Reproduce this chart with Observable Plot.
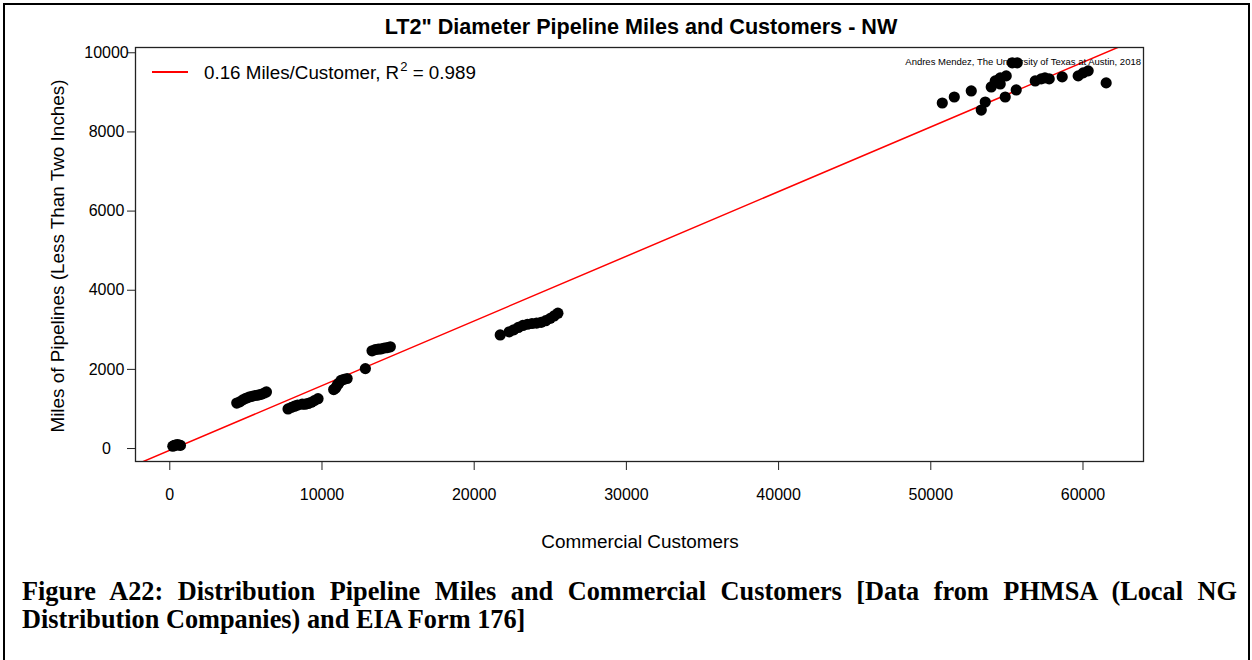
<!DOCTYPE html>
<html>
<head>
<meta charset="utf-8">
<script src="https://cdn.jsdelivr.net/npm/d3@7"></script>
<script src="https://cdn.jsdelivr.net/npm/@observablehq/plot@0.6"></script>
<style>
  html, body { margin: 0; padding: 0; background: #fff; }
  #page { position: relative; width: 1252px; height: 660px; overflow: hidden; font-family: "Liberation Sans", Arial, sans-serif; color: #000; }
  #border { position: absolute; left: 3px; top: 3px; width: 1243px; height: 700px; border-top: 2px solid #000; border-left: 2px solid #000; border-right: 2px solid #000; }
  .abs { position: absolute; white-space: nowrap; }
  #chart { position: absolute; left: 0; top: 0; }
  .cap { position: absolute; left: 22px; width: 1215px; font-family: "Liberation Serif", "Times New Roman", serif; font-weight: bold; font-size: 26.3px; line-height: 28px; white-space: normal; }
</style>
</head>
<body>
<div id="page">
  <div id="border"></div>
  <div id="chart"></div>
</div>
<script>
// ---- data ----
const customers = [
  200, 300, 400, 500, 600, 700,
  4400, 4600, 4800, 5000, 5200, 5400, 5600, 5800, 6000, 6200, 6350,
  7770, 8000, 8200, 8400, 8700, 8900, 9100, 9300, 9500, 9740,
  10770, 10900, 11000, 11100, 11250, 11450, 11650,
  12850,
  13290, 13500, 13700, 13900, 14100, 14300, 14490,
  21710, 22300, 22600, 22900, 23200, 23500, 23800, 24100, 24400, 24700, 25000, 25250, 25500,
  50755, 51543, 52659, 53316, 53578, 53972, 54235, 54432, 54563, 54563, 54891, 54957,
  55351, 55680, 55614, 56861, 57255, 57500, 57781, 58634, 59685, 60013, 60341, 61523
];
const miles = [
  60, 80, 90, 100, 90, 80,
  1150, 1180, 1230, 1270, 1300, 1320, 1340, 1350, 1370, 1400, 1430,
  1000, 1040, 1070, 1100, 1120, 1120, 1140, 1170, 1210, 1260,
  1490, 1530, 1600, 1650, 1720, 1750, 1770,
  2020,
  2470, 2500, 2510, 2520, 2540, 2550, 2570,
  2870, 2950, 3000, 3060, 3110, 3140, 3160, 3170, 3190, 3230, 3290, 3350, 3420,
  8731, 8883, 9036, 8553, 8756, 9137, 9289, 9307, 9365, 9213, 8883, 9416,
  9746, 9746, 9061, 9289, 9340, 9365, 9340, 9391, 9416, 9492, 9543, 9239
];
const fitSlope = 0.1634;
const fitIntercept = -43;
const legendSlope = "0.16";
const legendR2 = "0.989";
const xTicks = [0, 10000, 20000, 30000, 40000, 50000, 60000];
const yTicks = [0, 2000, 4000, 6000, 8000, 10000];

const titleText = "LT2\" Diameter Pipeline Miles and Customers - NW";
const xTitle = "Commercial Customers";
const yTitle = "Miles of Pipelines (Less Than Two Inches)";
const credit = "Andres Mendez, The University of Texas at Austin, 2018";
const captionLine1 = "Figure A22: Distribution Pipeline Miles and Commercial Customers [Data from PHMSA (Local NG";
const captionLine2 = "Distribution Companies) and EIA Form 176]";

// ---- build ----
const points = customers.map((c, i) => ({c, m: miles[i]}));
function rExtend([a, b]) { const d = (b - a) * 0.04; return [a - d, b + d]; }
const xDom = rExtend(d3.extent(customers));
xDom[0] = Math.min(xDom[0], -2250);
const yDom = rExtend(d3.extent(miles));
const fit = xDom.map(x => ({c: x, m: fitSlope * x + fitIntercept}));

const W = 1252, H = 560;
const plot = Plot.plot({
  width: W, height: H,
  marginTop: 47, marginLeft: 135, marginRight: 109, marginBottom: H - 461,
  style: {fontFamily: "'Liberation Sans', Arial, sans-serif", fontSize: "16px", color: "#000", background: "transparent"},
  x: {domain: xDom, label: null},
  y: {domain: yDom, label: null},
  marks: [
    Plot.line(fit, {x: "c", y: "m", stroke: "#ff0000", strokeWidth: 1.5, clip: true}),
    Plot.dot(points, {x: "c", y: "m", r: 5.6, fill: "#000", stroke: null}),
    Plot.frame({stroke: "#222", strokeWidth: 1.3}),
    Plot.axisX(xTicks, {tickSize: 9, tickPadding: 18, tickFormat: d => String(d), stroke: "#222", label: null}),
    Plot.axisY(yTicks, {tickSize: 8, tickPadding: 21, textAnchor: "middle", tickFormat: d => String(d), stroke: "#222", label: null})
  ]
});
document.getElementById("chart").appendChild(plot);

const page = document.getElementById("page");
function addText(txt, css, html) {
  const d = document.createElement("div");
  d.className = "abs";
  if (html) d.innerHTML = txt; else d.textContent = txt;
  Object.assign(d.style, css);
  page.appendChild(d);
  return d;
}
addText(titleText, {left: "641px", top: "27px", transform: "translate(-50%,-50%)", fontWeight: "bold", fontSize: "21.6px"});
addText(xTitle, {left: "640px", top: "542px", transform: "translate(-50%,-50%)", fontSize: "18.9px"});
addText(yTitle, {left: "58px", top: "256px", transform: "translate(-50%,-50%) rotate(-90deg)", fontSize: "18.9px"});
addText(credit, {right: (1252 - 1141) + "px", top: "61px", transform: "translateY(-50%)", fontSize: "9.5px"});
// legend
const ln = document.createElement("div");
Object.assign(ln.style, {position: "absolute", left: "152px", top: "71px", width: "36px", height: "2px", background: "#ff0000"});
page.appendChild(ln);
addText(legendSlope + " Miles/Customer, R<span style=\"font-size:13px;position:relative;top:-8px;margin-left:1px\">2</span> = " + legendR2,
  {left: "204px", top: "74px", transform: "translateY(-50%)", fontSize: "18.8px", lineHeight: "22px"}, true);
// caption
const c1 = document.createElement("div");
c1.className = "cap"; c1.textContent = captionLine1;
Object.assign(c1.style, {top: "578px", textAlign: "justify", textAlignLast: "justify"});
page.appendChild(c1);
const c2 = document.createElement("div");
c2.className = "cap"; c2.textContent = captionLine2;
Object.assign(c2.style, {top: "606px", textAlign: "left"});
page.appendChild(c2);
</script>
</body>
</html>
